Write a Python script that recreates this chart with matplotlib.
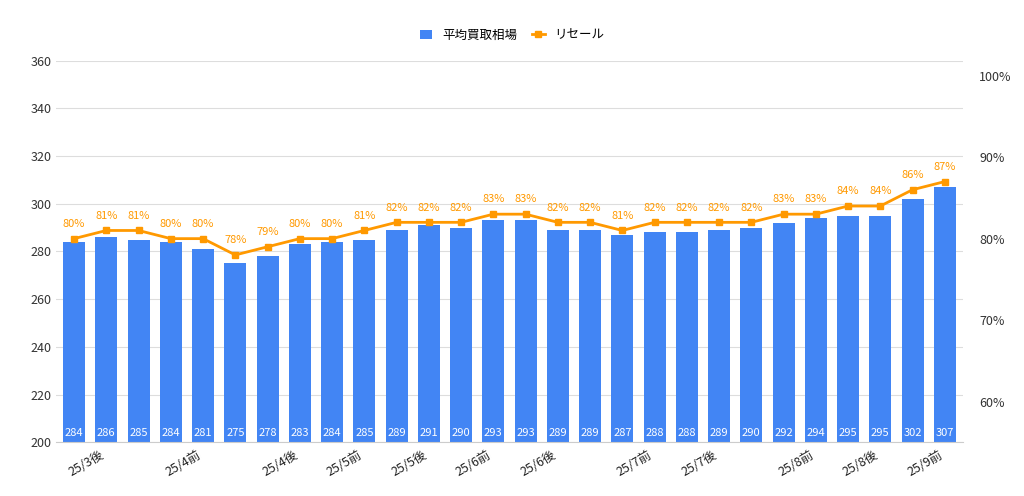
import matplotlib
matplotlib.use("Agg")
import matplotlib.pyplot as plt
import numpy as np

plt.rcParams["font.family"] = ["Noto Sans CJK JP"]

# data
prices = [284, 286, 285, 284, 281, 275, 278, 283, 284, 285, 289, 291, 290, 293,
          293, 289, 289, 287, 288, 288, 289, 290, 292, 294, 295, 295, 302, 307]
resale = [80, 81, 81, 80, 80, 78, 79, 80, 80, 81, 82, 82, 82, 83,
          83, 82, 82, 81, 82, 82, 82, 82, 83, 83, 84, 84, 86, 87]
tick_idx = [1, 4, 7, 9, 11, 13, 15, 18, 20, 23, 25, 27]
tick_labels = ["25/3後", "25/4前", "25/4後", "25/5前", "25/5後", "25/6前",
               "25/6後", "25/7前", "25/7後", "25/8前", "25/8後", "25/9前"]

blue = "#4285f4"
orange = "#ff9900"

fig = plt.figure(figsize=(10.24, 4.96), dpi=100)
ax = fig.add_axes([0.055, 0.108, 0.885, 0.77])
x = np.arange(len(prices))

bars = ax.bar(x, prices, width=0.68, color=blue, label="平均買取相場", zorder=2)
for xi, v in zip(x, prices):
    ax.text(xi, 202, str(v), ha="center", va="bottom", color="white", fontsize=8, zorder=3)
ax.set_ylim(200, 360)
ax.set_yticks(range(200, 361, 20))
ax.set_xlim(-0.55, len(prices) - 0.45)
ax.grid(axis="y", color="#dddddd", lw=0.8, zorder=0)
ax.set_axisbelow(True)
for s in ["top", "right", "left"]:
    ax.spines[s].set_visible(False)
ax.spines["bottom"].set_color("#cccccc")
ax.tick_params(axis="y", length=0, labelsize=9, colors="#333333")
ax.set_xticks(tick_idx)
ax.set_xticklabels(tick_labels, rotation=30, ha="right", fontsize=9, color="#222222")
ax.tick_params(axis="x", length=0, pad=4)

ax2 = ax.twinx()
line, = ax2.plot(x, resale, color=orange, lw=2, marker="s", ms=5, label="リセール", zorder=4)
for xi, v in zip(x, resale):
    ax2.text(xi, v + 1.2, f"{v}%", ha="center", va="bottom", color=orange, fontsize=8)
ax2.set_ylim(55, 101.85)
ax2.set_yticks([60, 70, 80, 90, 100])
ax2.set_yticklabels(["60%", "70%", "80%", "90%", "100%"])
ax2.tick_params(axis="y", length=0, labelsize=9, colors="#333333", pad=12)
for s in ["top", "right", "left", "bottom"]:
    ax2.spines[s].set_visible(False)

fig.legend(handles=[bars, line], loc="upper center", bbox_to_anchor=(0.5, 0.965),
           ncol=2, frameon=False, fontsize=9, handlelength=1, columnspacing=1.2)

fig.savefig("out.png", dpi=100)
